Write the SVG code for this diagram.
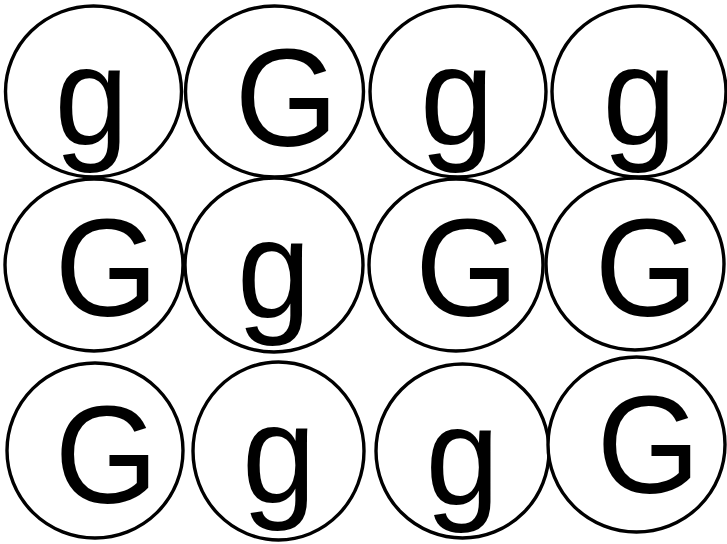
<svg xmlns="http://www.w3.org/2000/svg" width="727" height="544" viewBox="0 0 727 544">
<style>
.c{fill:#fff;stroke:#000;stroke-width:3.4}
.t{font-family:"Liberation Sans",Arial,sans-serif;font-size:140px;fill:#000;text-anchor:middle}
</style>
<rect width="727" height="544" fill="#fff"/>
<g id="connectors"/>
<g id="n1"><ellipse class="c" cx="93.5" cy="91.5" rx="88" ry="85.5"/><text class="t" transform="translate(91.5,144) scale(0.95,1)">g</text></g>
<g id="n2"><ellipse class="c" cx="274.5" cy="91.5" rx="89" ry="85.5"/><text class="t" transform="translate(286.5,146) scale(0.95,1)">G</text></g>
<g id="n3"><ellipse class="c" cx="458" cy="91.5" rx="88" ry="85.5"/><text class="t" transform="translate(457,144) scale(0.95,1)">g</text></g>
<g id="n4"><ellipse class="c" cx="639" cy="91.5" rx="87" ry="85.5"/><text class="t" transform="translate(639.5,144) scale(0.95,1)">g</text></g>
<g id="n5"><ellipse class="c" cx="94" cy="265" rx="89" ry="86"/><text class="t" transform="translate(106.5,316) scale(0.95,1)">G</text></g>
<g id="n6"><ellipse class="c" cx="274" cy="265" rx="89" ry="87"/><text class="t" transform="translate(274,317) scale(0.95,1)">g</text></g>
<g id="n7"><ellipse class="c" cx="456" cy="265" rx="87" ry="86"/><text class="t" transform="translate(467,316) scale(0.95,1)">G</text></g>
<g id="n8"><ellipse class="c" cx="635" cy="264" rx="89" ry="86"/><text class="t" transform="translate(646.5,316) scale(0.95,1)">G</text></g>
<g id="n9"><ellipse class="c" cx="95" cy="450.5" rx="88" ry="87.5"/><text class="t" transform="translate(106.5,503) scale(0.95,1)">G</text></g>
<g id="n10"><ellipse class="c" cx="278.5" cy="451" rx="85.5" ry="89"/><text class="t" transform="translate(279,502) scale(0.95,1)">g</text></g>
<g id="n11"><ellipse class="c" cx="462.5" cy="451" rx="86.5" ry="87"/><text class="t" transform="translate(462.5,504) scale(0.95,1)">g</text></g>
<g id="n12"><ellipse class="c" cx="636.5" cy="444.5" rx="88.5" ry="87.5"/><text class="t" transform="translate(648.5,493) scale(0.95,1)">G</text></g>
</svg>
